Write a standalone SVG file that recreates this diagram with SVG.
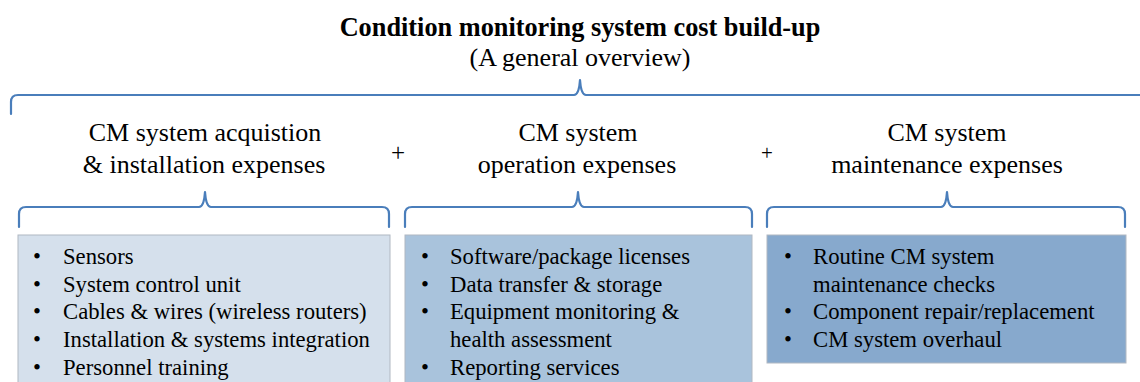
<svg xmlns="http://www.w3.org/2000/svg" width="1140" height="382" viewBox="0 0 1140 382">
<style>
text{font-family:"Liberation Serif","Times New Roman",serif;fill:#000}
.title{font-size:26.3px;font-weight:bold}
.sub{font-size:26px}
.hd{font-size:26px}
.li{font-size:22.7px}
.plus{font-size:25px}
.brace{fill:none;stroke:#4a7ebb;stroke-width:2.2;stroke-linejoin:round;stroke-linecap:round}
.box{stroke:#b0b8c2;stroke-width:1}
</style>
<rect width="1140" height="382" fill="#fff"/>
<g id="title">
<text class="title" x="580" y="36" text-anchor="middle">Condition monitoring system cost build-up</text>
<text class="sub" x="580" y="66" text-anchor="middle">(A general overview)</text>
</g>
<g id="connectors">
<path class="brace" d="M11 114 L11 102 Q11 95 18 95 L574 95 Q579 95 580 80 Q581 95 586 95 L1142 95"/>
<path class="brace" d="M19 227 L19 214 Q19 207 26 207 L199 207 Q204 207 205 192 Q206 207 211 207 L382 207 Q389 207 389 214 L389 227"/>
<path class="brace" d="M405 227 L405 214 Q405 207 412 207 L572 207 Q577 207 578 192 Q579 207 584 207 L745 207 Q752 207 752 214 L752 227"/>
<path class="brace" d="M767 227 L767 214 Q767 207 774 207 L941 207 Q946 207 947 192 Q948 207 953 207 L1118 207 Q1125 207 1125 214 L1125 227"/>
</g>
<g id="header1">
<text class="hd" x="205" y="141" text-anchor="middle">CM system acquistion</text>
<text class="hd" x="204" y="173" text-anchor="middle">&amp; installation  expenses</text>
</g>
<text class="plus" x="398" y="161" text-anchor="middle">+</text>
<g id="header2">
<text class="hd" x="578" y="141" text-anchor="middle">CM system</text>
<text class="hd" x="577" y="173" text-anchor="middle">operation expenses</text>
</g>
<text class="plus" x="767" y="160" text-anchor="middle" style="font-size:21px">+</text>
<g id="header3">
<text class="hd" x="947" y="141" text-anchor="middle">CM system</text>
<text class="hd" x="947" y="173" text-anchor="middle">maintenance expenses</text>
</g>
<g id="box1">
<rect class="box" x="18" y="235" width="372" height="150" fill="#d5e0ec"/>
<text class="li" x="33" y="264">•</text><text class="li" x="63" y="264">Sensors</text>
<text class="li" x="33" y="292">•</text><text class="li" x="63" y="292">System control unit</text>
<text class="li" x="33" y="319">•</text><text class="li" x="63" y="319">Cables &amp; wires (wireless routers)</text>
<text class="li" x="33" y="347">•</text><text class="li" x="63" y="347">Installation &amp; systems integration</text>
<text class="li" x="33" y="375">•</text><text class="li" x="63" y="375">Personnel training</text>
</g>
<g id="box2">
<rect class="box" x="405" y="235" width="347" height="150" fill="#a9c3dc"/>
<text class="li" x="421" y="264">•</text><text class="li" x="450" y="264">Software/package licenses</text>
<text class="li" x="421" y="292">•</text><text class="li" x="450" y="292">Data transfer &amp; storage</text>
<text class="li" x="421" y="319">•</text><text class="li" x="450" y="319">Equipment monitoring  &amp;</text>
<text class="li" x="450" y="347">health assessment</text>
<text class="li" x="421" y="375">•</text><text class="li" x="450" y="375">Reporting  services</text>
</g>
<g id="box3">
<rect class="box" x="767" y="235" width="359" height="128" fill="#87a9cd"/>
<text class="li" x="784" y="264">•</text><text class="li" x="813" y="264">Routine CM system</text>
<text class="li" x="813" y="292">maintenance checks</text>
<text class="li" x="784" y="319">•</text><text class="li" x="813" y="319">Component repair/replacement</text>
<text class="li" x="784" y="347">•</text><text class="li" x="813" y="347">CM system overhaul</text>
</g>
</svg>
